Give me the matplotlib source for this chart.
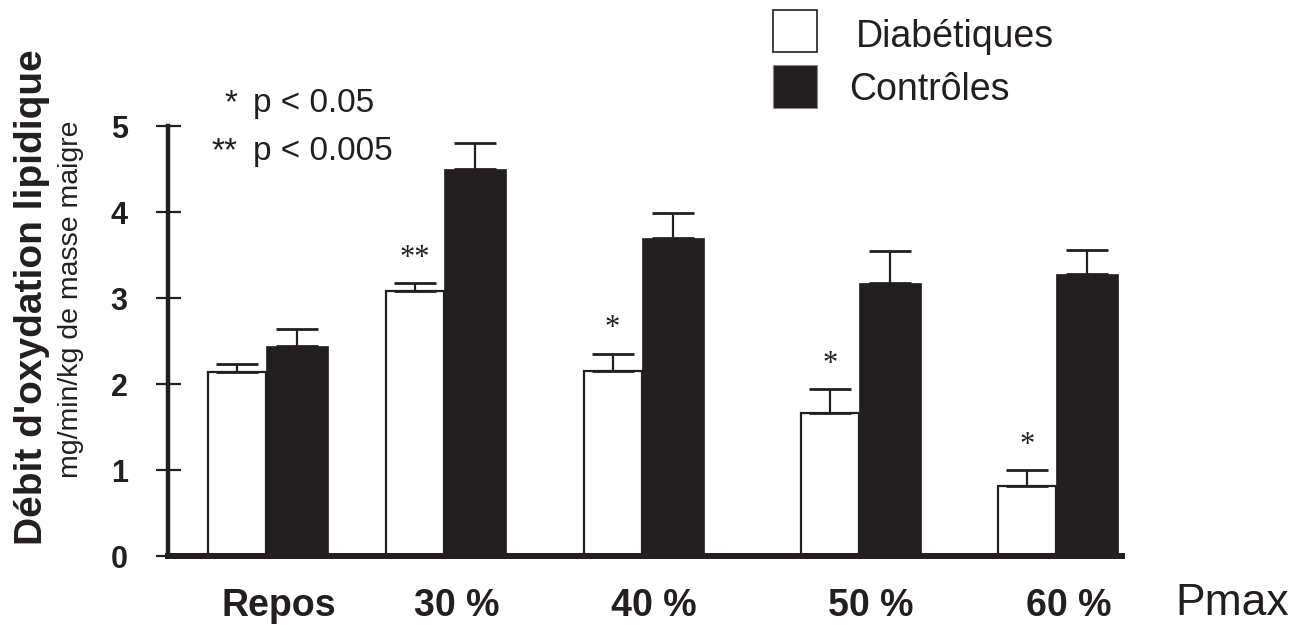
import matplotlib.pyplot as plt
import numpy as np
from matplotlib.patches import Rectangle

# Lipid oxidation rate, diabetics vs controls, by exercise intensity

groups = ["Repos", "30 %", "40 %", "50 %", "60 %"]
diab = [2.14, 3.08, 2.15, 1.66, 0.81]
diab_err = [0.09, 0.09, 0.20, 0.28, 0.19]
ctrl = [2.44, 4.50, 3.70, 3.17, 3.28]
ctrl_err = [0.20, 0.30, 0.29, 0.38, 0.28]
stars = ["", "**", "*", "*", "*"]

pos = np.array([0, 1, 2.11, 3.33, 4.44])
w_d = 0.326
w_c = 0.348
dark = "#231f20"

plt.rcParams['font.family'] = ['Liberation Sans', 'DejaVu Sans']

fig = plt.figure(figsize=(13.01, 6.25), dpi=100)
ax = fig.add_axes([168 / 1301, 69 / 625, 954 / 1301, 430 / 625])

ek = dict(ecolor=dark, elinewidth=1.6, capsize=15, capthick=2, clip_on=False)
ax.bar(pos - w_d / 2, diab, w_d, color="white", edgecolor=dark, linewidth=1.6)
ax.errorbar(pos - w_d / 2, diab, yerr=[np.zeros(5), diab_err], fmt="none", **ek)
ax.bar(pos + w_c / 2, ctrl, w_c, color=dark, edgecolor=dark, linewidth=0.5)
ax.errorbar(pos + w_c / 2, ctrl, yerr=[np.zeros(5), ctrl_err], fmt="none", **ek)

for x, y, e, s in zip(pos - w_d / 2, diab, diab_err, stars):
    if s:
        ax.annotate(s, (x, y + e), xytext=(0, 18), textcoords="offset points",
                    ha="center", va="center", fontsize=22, family="Liberation Serif",
                    color=dark)

ax.set_xlim(-0.551, 4.809)
ax.set_ylim(0, 5)
for side in ["top", "right"]:
    ax.spines[side].set_visible(False)
ax.spines["left"].set_linewidth(3.2)
ax.spines["bottom"].set_linewidth(4.3)
ax.spines["left"].set_color(dark)
ax.spines["bottom"].set_color(dark)

ax.set_yticks(range(6))
ax.tick_params(axis="y", direction="inout", length=18, width=1.6, pad=20,
               labelsize=22, colors=dark)
ax.set_xticks(pos + 0.07)
ax.set_xticklabels(groups)
ax.tick_params(axis="x", length=0, pad=23, labelsize=27, colors=dark)
for lab in ax.get_xticklabels() + ax.get_yticklabels():
    lab.set_fontweight("bold")

fig.text(1175 / 1301, 10 / 625, "Pmax", fontsize=32, color=dark, va="baseline")

fig.text(32 / 1301, 0.525, "Débit d'oxydation lipidique", rotation=90,
         ha="center", va="center", fontsize=28, fontweight="bold", color=dark)
fig.text(71 / 1301, 0.522, "mg/min/kg de masse maigre", rotation=90,
         ha="center", va="center", fontsize=20.5, color=dark)

# legend
fig.patches.append(Rectangle((773 / 1301, 573 / 625), 44 / 1301, 42 / 625,
                             transform=fig.transFigure, facecolor="white",
                             edgecolor=dark, linewidth=1.2))
fig.patches.append(Rectangle((773 / 1301, 517 / 625), 44 / 1301, 43 / 625,
                             transform=fig.transFigure, facecolor=dark,
                             edgecolor="#888888", linewidth=0.8))
fig.text(856 / 1301, 578 / 625, "Diabétiques", fontsize=27, color=dark, va="baseline")
fig.text(849 / 1301, 525 / 625, "Contrôles", fontsize=27, color=dark, va="baseline")

# p-value key
fig.text(237 / 1301, 513 / 625, "*", fontsize=24, color=dark, ha="right", va="baseline")
fig.text(253 / 1301, 513 / 625, "p < 0.05", fontsize=24, color=dark, va="baseline")
fig.text(237 / 1301, 465 / 625, "**", fontsize=24, color=dark, ha="right", va="baseline")
fig.text(253 / 1301, 465 / 625, "p < 0.005", fontsize=24, color=dark, va="baseline")

fig.savefig("out.png", dpi=100)
